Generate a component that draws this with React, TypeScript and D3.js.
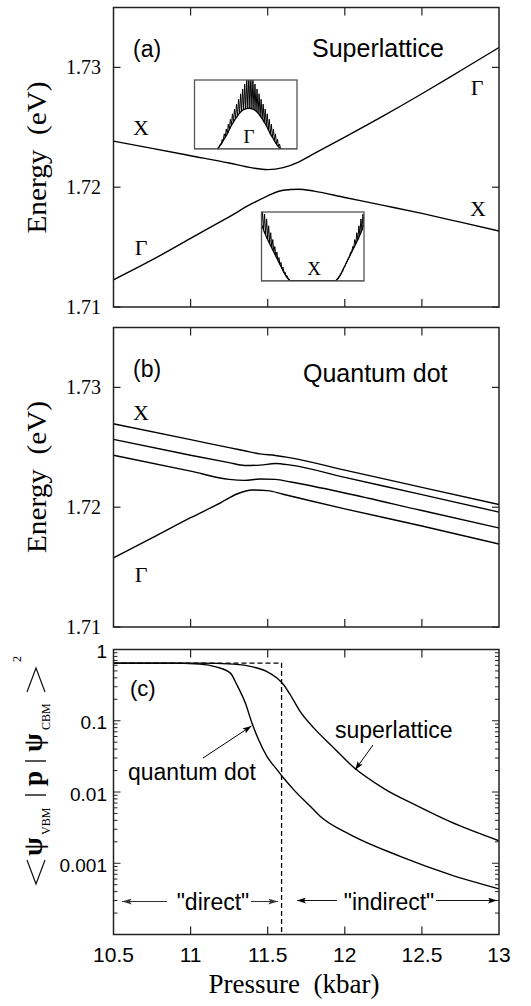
import React from 'react';
import * as d3 from 'd3';

const W = 531;
const H = 1006;

// ---- Panel (a): superlattice levels (kbar, eV)
const pressA = [10.5, 10.75, 11.0, 11.25, 11.4, 11.5, 11.6, 11.7, 11.8, 12.0, 12.25, 12.5, 12.75, 13.0];
const slUpper = [1.72385, 1.72324, 1.72263, 1.72202, 1.72161, 1.72147, 1.72163, 1.7221, 1.7228, 1.72418, 1.72595, 1.7278, 1.72972, 1.73166];
const slLower = [1.71227, 1.71393, 1.71573, 1.71753, 1.71864, 1.71928, 1.71975, 1.71983, 1.71967, 1.71914, 1.71848, 1.71781, 1.71708, 1.71634];

// ---- Panel (b): quantum-dot levels
const pressB = [10.5, 11.0, 11.25, 11.35, 11.45, 11.55, 11.65, 12.0, 12.5, 13.0];
const qdLevel1 = [1.72696, 1.72564, 1.72497, 1.72471, 1.72445, 1.72432, 1.72412, 1.72309, 1.72166, 1.72022];
const qdLevel2 = [1.72566, 1.72434, 1.72372, 1.72348, 1.72351, 1.72365, 1.72351, 1.72249, 1.72105, 1.71959];
const qdLevel3 = [1.72434, 1.72301, 1.72232, 1.72224, 1.72235, 1.72232, 1.7221, 1.72119, 1.71972, 1.71826];
const pressB4 = [10.5, 10.75, 11.0, 11.2, 11.3, 11.4, 11.5, 11.6, 12.0, 12.5, 13.0];
const qdLevel4 = [1.71577, 1.71743, 1.71912, 1.72041, 1.7211, 1.72144, 1.72138, 1.72108, 1.71986, 1.71843, 1.71693];

// ---- Panel (c): squared momentum matrix elements
const pressQD = [10.5, 10.85, 11.06, 11.17, 11.258, 11.3, 11.355, 11.398, 11.441, 11.495, 11.56, 11.603, 11.668, 11.776, 11.84, 12.035, 12.359, 12.683, 13.0];
const matQD = [0.643, 0.643, 0.623, 0.565, 0.466, 0.32, 0.177, 0.0927, 0.0542, 0.0316, 0.0206, 0.0157, 0.0108, 0.0063, 0.00456, 0.00252, 0.00125, 0.000693, 0.000437];
const pressSL = [10.5, 11.06, 11.28, 11.41, 11.495, 11.56, 11.603, 11.646, 11.711, 11.797, 11.927, 12.057, 12.251, 12.467, 12.683, 13.0];
const matSL = [0.643, 0.643, 0.623, 0.565, 0.49, 0.397, 0.32, 0.232, 0.134, 0.08, 0.0419, 0.0222, 0.01127, 0.00643, 0.00383, 0.00207];
const stepP = [10.5, 11.59, 11.59];
const stepV = [0.643, 0.643, 0.0001];

// ---- Axis ticks
const xTicks = [10.5, 11, 11.5, 12, 12.5, 13];
const xTickLabels = ['10.5', '11', '11.5', '12', '12.5', '13'];
const eTicks = [1.71, 1.72, 1.73];
const eTickLabels = ['1.71', '1.72', '1.73'];
const mTicks = [1, 0.1, 0.01, 0.001];
const mTickLabels = ['1', '0.1', '0.01', '0.001'];

// ---- Insets (normalized position across box, normalized height)
const gammaU = [0.22, 0.24, 0.26, 0.28, 0.3, 0.32, 0.34, 0.36, 0.38, 0.4, 0.42, 0.44, 0.46, 0.48, 0.5, 0.52, 0.54, 0.56, 0.58, 0.6, 0.62, 0.64, 0.66, 0.68, 0.7, 0.72, 0.74, 0.76, 0.78, 0.8, 0.82, 0.84];
const gammaLo = [0, 0.03, 0.07, 0.12, 0.17, 0.22, 0.28, 0.34, 0.39, 0.44, 0.48, 0.52, 0.55, 0.57, 0.58, 0.59, 0.59, 0.58, 0.57, 0.55, 0.52, 0.48, 0.44, 0.39, 0.34, 0.28, 0.22, 0.17, 0.12, 0.07, 0.03, 0];
const gammaHi = [0, 0.07, 0.14, 0.22, 0.29, 0.36, 0.43, 0.51, 0.58, 0.65, 0.72, 0.8, 0.87, 0.94, 1.01, 1.08, 1.08, 1.01, 0.94, 0.87, 0.8, 0.72, 0.65, 0.58, 0.51, 0.43, 0.36, 0.29, 0.22, 0.14, 0.07, 0];
const xInsU = [0, 0.02, 0.04, 0.06, 0.08, 0.1, 0.12, 0.14, 0.16, 0.18, 0.2, 0.22, 0.24, 0.26, 0.28, 0.72, 0.74, 0.76, 0.78, 0.8, 0.82, 0.84, 0.86, 0.88, 0.9, 0.92, 0.94, 0.96, 0.98, 1.0];
const xInsLo = [0.82, 0.74, 0.67, 0.6, 0.54, 0.48, 0.42, 0.36, 0.3, 0.24, 0.18, 0.12, 0.07, 0.03, 0, 0, 0.03, 0.07, 0.12, 0.18, 0.24, 0.3, 0.36, 0.42, 0.48, 0.54, 0.6, 0.67, 0.74, 0.82];
const xInsHi = [1.0, 0.97, 0.9, 0.8, 0.7, 0.6, 0.5, 0.42, 0.34, 0.27, 0.2, 0.13, 0.075, 0.03, 0, 0, 0.03, 0.075, 0.13, 0.2, 0.27, 0.34, 0.42, 0.5, 0.6, 0.7, 0.8, 0.9, 0.97, 1.0];

const SERIF = "'Liberation Serif', 'Times New Roman', serif";
const SANS = "'Liberation Sans', Arial, Helvetica, sans-serif";

const L = 113.5;
const R = 499;
const x = d3.scaleLinear().domain([10.5, 13]).range([L, R]);
const ya = d3.scaleLinear().domain([1.71, 1.735]).range([307, 7.5]);
const yb = d3.scaleLinear().domain([1.71, 1.735]).range([627, 327.5]);
const yc = d3.scaleLog().domain([1e-4, 1]).range([934.5, 649.5]);

const zip = (a: number[], b: number[]) => a.map((v, i) => [v, b[i]] as [number, number]);

function linePath(xs: number[], ys: number[], yScale: any, curve: any = d3.curveMonotoneX) {
  const gen = d3.line<[number, number]>().x(d => x(d[0])).y(d => yScale(d[1])).curve(curve);
  return gen(zip(xs, ys)) || '';
}

function zigzag(us: number[], lo: number[], hi: number[]) {
  const pts: [number, number][] = [];
  us.forEach((u, i) => {
    pts.push([u, lo[i]]);
    pts.push([u + 0.01, hi[i]]);
  });
  return pts;
}

function Frame({ top, bottom, yScale, yTicks, kind }: any) {
  const els: any[] = [];
  xTicks.slice(1, -1).forEach((t, i) => {
    els.push(<line key={'xb' + i} x1={x(t)} x2={x(t)} y1={bottom} y2={bottom - 8} stroke="#222" strokeWidth={1.2} />);
    els.push(<line key={'xt' + i} x1={x(t)} x2={x(t)} y1={top} y2={top + 8} stroke="#222" strokeWidth={1.2} />);
  });
  if (kind === 'lin') {
    yTicks.forEach((t: number, i: number) => {
      const yy = yScale(t);
      els.push(<line key={'yl' + i} x1={L} x2={L + 7} y1={yy} y2={yy} stroke="#222" strokeWidth={1.2} />);
      els.push(<line key={'yr' + i} x1={R} x2={R - 7} y1={yy} y2={yy} stroke="#222" strokeWidth={1.2} />);
    });
  } else {
    yScale.ticks().forEach((t: number, i: number) => {
      const yy = yScale(t);
      const mant = Math.round(t / Math.pow(10, Math.floor(Math.log10(t) + 1e-9)));
      const len = mant === 1 ? 7 : 4;
      els.push(<line key={'yl' + i} x1={L} x2={L + len} y1={yy} y2={yy} stroke="#222" strokeWidth={1} />);
      els.push(<line key={'yr' + i} x1={R} x2={R - len} y1={yy} y2={yy} stroke="#222" strokeWidth={1} />);
    });
  }
  els.push(<rect key="frame" x={L} y={top} width={R - L} height={bottom - top} fill="none" stroke="#222" strokeWidth={1.5} />);
  return <g>{els}</g>;
}

function Inset({ bx, by, bw, bh, us, lo, hi, label, lx, id }: any) {
  const sx = d3.scaleLinear().domain([0, 1]).range([bx, bx + bw]);
  const sy = d3.scaleLinear().domain([0, 1]).range([by + bh, by]);
  const pts = zigzag(us, lo, hi);
  const gen = d3.line<[number, number]>().x(d => sx(d[0])).y(d => sy(d[1]));
  const smooth = d3.line<[number, number]>().x(d => sx(d[0])).y(d => sy(d[1])).curve(d3.curveMonotoneX);
  return (
    <g>
      <defs>
        <clipPath id={id}>
          <rect x={bx} y={by} width={bw} height={bh} />
        </clipPath>
      </defs>
      <rect x={bx} y={by} width={bw} height={bh} fill="#fff" stroke="none" />
      <g clipPath={`url(#${id})`}>
        <path d={smooth(zip(us, lo)) || ''} fill="none" stroke="#000" strokeWidth={1.3} />
        <path d={gen(pts) || ''} fill="none" stroke="#000" strokeWidth={1} />
        <line x1={bx} x2={bx + bw} y1={by + bh} y2={by + bh} stroke="#000" strokeWidth={1} />
      </g>
      <rect x={bx} y={by} width={bw} height={bh} fill="none" stroke="#555" strokeWidth={1.3} />
      <text x={lx} y={by + bh - 6} fontFamily={SERIF} fontSize={19} textAnchor="middle">{label}</text>
    </g>
  );
}

export default function App() {
  const curveStyle = { fill: 'none', stroke: '#000', strokeWidth: 1.4 };
  return (
    <svg width={W} height={H} style={{ position: 'absolute', left: 0, top: 0, background: '#fff' }}>
      <defs>
        <marker id="ah" markerWidth="9" markerHeight="6" refX="9" refY="3" orient="auto" markerUnits="userSpaceOnUse">
          <path d="M0,0 L9,3 L0,6 L2,3 z" fill="#000" />
        </marker>
        <marker id="ahg" markerWidth="10" markerHeight="6" refX="10" refY="3" orient="auto" markerUnits="userSpaceOnUse">
          <path d="M0,0 L10,3 L0,6 L2.5,3 z" fill="#333" />
        </marker>
        <clipPath id="clipA"><rect x={L} y={7.5} width={R - L} height={299.5} /></clipPath>
        <clipPath id="clipB"><rect x={L} y={327.5} width={R - L} height={299.5} /></clipPath>
        <clipPath id="clipC"><rect x={L} y={649.5} width={R - L} height={285} /></clipPath>
      </defs>

      {/* ===== Panel (a) ===== */}
      <g clipPath="url(#clipA)">
        <path d={linePath(pressA, slUpper, ya)} {...curveStyle} />
        <path d={linePath(pressA, slLower, ya)} {...curveStyle} />
      </g>
      <Frame top={7.5} bottom={307} yScale={ya} yTicks={eTicks} kind="lin" />
      {eTicks.map((t, i) => (
        <text key={'ea' + i} x={101} y={ya(t)} dy="0.35em" fontFamily={SERIF} fontSize={20} textAnchor="end">{eTickLabels[i]}</text>
      ))}
      <text transform="translate(46,157.5) rotate(-90)" fontFamily={SERIF} fontSize={27} textAnchor="middle" style={{ whiteSpace: 'pre' }} textLength={152} lengthAdjust="spacingAndGlyphs">Energy  (eV)</text>
      <text x={133} y={57} fontFamily={SANS} fontSize={23}>(a)</text>
      <text x={312} y={57} fontFamily={SANS} fontSize={25}>Superlattice</text>
      <text x={141} y={135} fontFamily={SERIF} fontSize={22} textAnchor="middle">X</text>
      <text x={141} y={255} fontFamily={SERIF} fontSize={22} textAnchor="middle">Γ</text>
      <text x={477} y={95} fontFamily={SERIF} fontSize={22} textAnchor="middle">Γ</text>
      <text x={478} y={216} fontFamily={SERIF} fontSize={22} textAnchor="middle">X</text>
      <Inset id="insG" bx={194.5} by={80} bw={102.5} bh={69} us={gammaU} lo={gammaLo} hi={gammaHi} label="Γ" lx={249} />
      <Inset id="insX" bx={261.5} by={212} bw={102.5} bh={69} us={xInsU} lo={xInsLo} hi={xInsHi} label="X" lx={314} />

      {/* ===== Panel (b) ===== */}
      <g clipPath="url(#clipB)">
        <path d={linePath(pressB, qdLevel1, yb)} {...curveStyle} />
        <path d={linePath(pressB, qdLevel2, yb)} {...curveStyle} />
        <path d={linePath(pressB, qdLevel3, yb)} {...curveStyle} />
        <path d={linePath(pressB4, qdLevel4, yb)} {...curveStyle} />
      </g>
      <Frame top={327.5} bottom={627} yScale={yb} yTicks={eTicks} kind="lin" />
      {eTicks.map((t, i) => (
        <text key={'eb' + i} x={101} y={yb(t)} dy="0.35em" fontFamily={SERIF} fontSize={20} textAnchor="end">{eTickLabels[i]}</text>
      ))}
      <text transform="translate(46,477) rotate(-90)" fontFamily={SERIF} fontSize={27} textAnchor="middle" style={{ whiteSpace: 'pre' }} textLength={152} lengthAdjust="spacingAndGlyphs">Energy  (eV)</text>
      <text x={133} y={377} fontFamily={SANS} fontSize={23}>(b)</text>
      <text x={303} y={382} fontFamily={SANS} fontSize={25}>Quantum dot</text>
      <text x={141} y={420} fontFamily={SERIF} fontSize={22} textAnchor="middle">X</text>
      <text x={141} y={582} fontFamily={SERIF} fontSize={22} textAnchor="middle">Γ</text>

      {/* ===== Panel (c) ===== */}
      <g clipPath="url(#clipC)">
        <path d={linePath(stepP, stepV, yc, d3.curveLinear)} fill="none" stroke="#000" strokeWidth={1.3} strokeDasharray="5,3" />
        <path d={linePath(pressQD, matQD, yc)} {...curveStyle} />
        <path d={linePath(pressSL, matSL, yc)} {...curveStyle} />
      </g>
      <Frame top={649.5} bottom={934.5} yScale={yc} yTicks={mTicks} kind="log" />
      {mTicks.map((t, i) => (
        <text key={'mc' + i} x={107} y={yc(t) + 2} dy="0.35em" fontFamily={SANS} fontSize={19} textAnchor="end">{mTickLabels[i]}</text>
      ))}
      {xTicks.map((t, i) => (
        <text key={'xc' + i} x={x(t)} y={962} fontFamily={SANS} fontSize={21} textAnchor="middle">{xTickLabels[i]}</text>
      ))}
      <text x={294} y={993} fontFamily={SERIF} fontSize={27} textAnchor="middle" style={{ whiteSpace: 'pre' }}>Pressure  (kbar)</text>
      <text x={130} y={696} fontFamily={SANS} fontSize={22}>(c)</text>
      <text x={335} y={738} fontFamily={SANS} fontSize={23}>superlattice</text>
      <line x1={373} y1={745} x2={355} y2={770} stroke="#000" strokeWidth={1} markerEnd="url(#ah)" />
      <text x={128} y={780} fontFamily={SANS} fontSize={23}>quantum dot</text>
      <line x1={203} y1={758} x2={251.5} y2={726} stroke="#000" strokeWidth={1} markerEnd="url(#ah)" />
      <text x={213} y={910} fontFamily={SANS} fontSize={23} textAnchor="middle">"direct"</text>
      <line x1={167} y1={901.5} x2={122} y2={901.5} stroke="#333" strokeWidth={1} markerEnd="url(#ahg)" />
      <line x1={251} y1={901.5} x2={278} y2={901.5} stroke="#333" strokeWidth={1} markerEnd="url(#ahg)" />
      <text x={389} y={910} fontFamily={SANS} fontSize={23} textAnchor="middle">"indirect"</text>
      <line x1={337} y1={900.5} x2={297} y2={900.5} stroke="#111" strokeWidth={1} markerEnd="url(#ah)" />
      <line x1={436} y1={900.5} x2={497} y2={900.5} stroke="#111" strokeWidth={1} markerEnd="url(#ah)" />

      {/* y label (c): <psi_VBM | p | psi_CBM>^2 */}
      <g transform="translate(42,886) rotate(-90)" fontFamily={SERIF} fill="#000">
        <path d="M26,-15 L2,-6 L26,3" fill="none" stroke="#111" strokeWidth={1.2} />
        <text x={30} y={0} fontSize={27} fontWeight="bold">ψ</text>
        <text x={51} y={8} fontSize={12}>VBM</text>
        <line x1={91} x2={91} y1={-17} y2={4} stroke="#111" strokeWidth={1.4} />
        <text x={100} y={0} fontSize={27} fontWeight="bold">p</text>
        <line x1={125} x2={125} y1={-17} y2={4} stroke="#111" strokeWidth={1.4} />
        <text x={134} y={0} fontSize={27} fontWeight="bold">ψ</text>
        <text x={156} y={8} fontSize={12}>CBM</text>
        <path d="M194,-15 L218,-6 L194,3" fill="none" stroke="#111" strokeWidth={1.2} />
        <text x={224} y={-21} fontSize={12}>2</text>
      </g>
    </svg>
  );
}
